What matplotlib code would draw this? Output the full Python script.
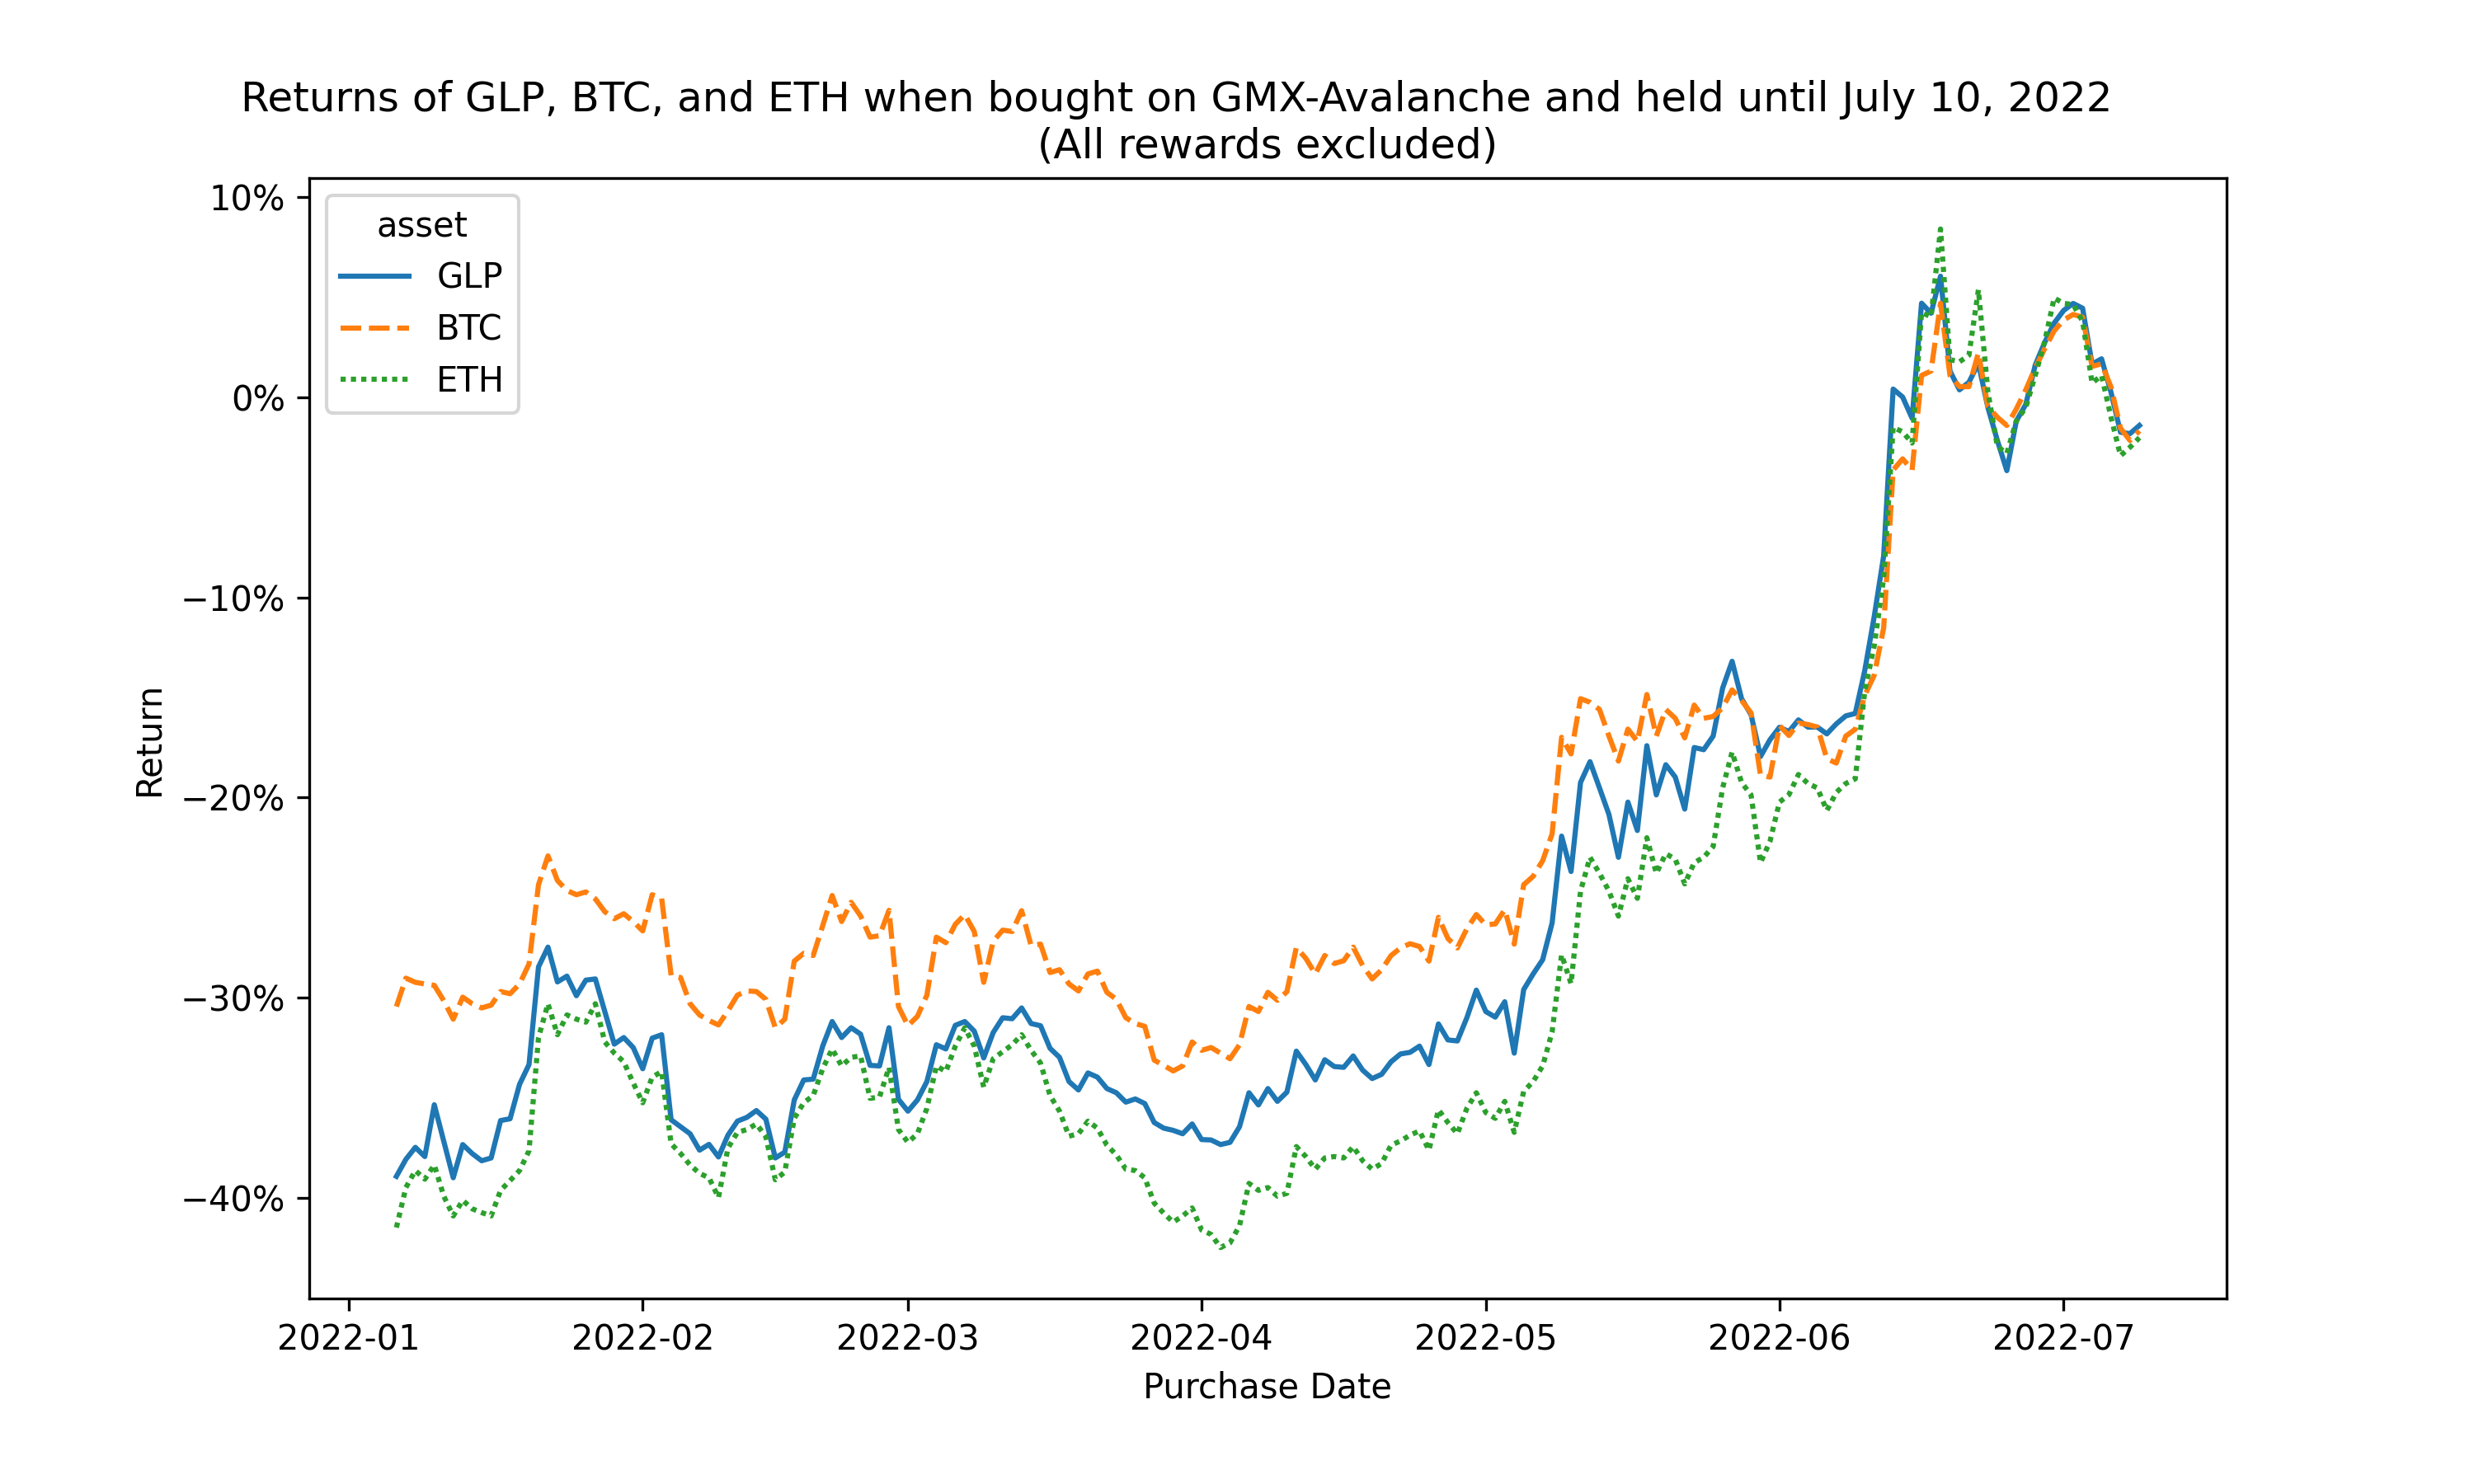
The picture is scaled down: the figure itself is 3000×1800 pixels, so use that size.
import matplotlib
matplotlib.use('Agg')
import matplotlib.pyplot as plt
from matplotlib.ticker import PercentFormatter
import seaborn as sns
import pandas as pd

# purchase dates (daily)
dates = pd.date_range('2022-01-06', '2022-07-09', freq='D')

# returns in %
glp = [
    -38.94, -38.09, -37.49, -37.95, -35.36, -37.18, -39.01, -37.35, -37.80, -38.16,
    -38.02, -36.15, -36.06, -34.34, -33.35, -28.47, -27.48, -29.22, -28.93, -29.91,
    -29.13, -29.07, -30.70, -32.33, -32.00, -32.50, -33.56, -32.03, -31.86, -36.11,
    -36.46, -36.81, -37.63, -37.34, -37.97, -36.88, -36.18, -35.99, -35.65, -36.08,
    -38.02, -37.73, -35.12, -34.12, -34.08, -32.43, -31.20, -32.00, -31.51, -31.83,
    -33.39, -33.42, -31.51, -35.09, -35.68, -35.12, -34.20, -32.36, -32.57, -31.39,
    -31.20, -31.68, -33.02, -31.75, -31.01, -31.06, -30.52, -31.30, -31.41, -32.54,
    -32.99, -34.20, -34.62, -33.77, -33.98, -34.55, -34.76, -35.23, -35.07, -35.30,
    -36.25, -36.53, -36.64, -36.81, -36.32, -37.10, -37.12, -37.35, -37.24, -36.46,
    -34.76, -35.37, -34.55, -35.19, -34.73, -32.68, -33.35, -34.12, -33.11, -33.45,
    -33.49, -32.92, -33.63, -34.05, -33.84, -33.21, -32.82, -32.74, -32.43, -33.35,
    -31.32, -32.12, -32.17, -31.01, -29.63, -30.70, -30.98, -30.21, -32.78, -29.60,
    -28.82, -28.11, -26.27, -21.93, -23.70, -19.25, -18.21, -19.52, -20.85, -22.99,
    -20.23, -21.65, -17.41, -19.87, -18.36, -18.98, -20.58, -17.50, -17.61, -16.93,
    -14.53, -13.19, -15.06, -15.86, -17.95, -17.11, -16.49, -16.70, -16.12, -16.48,
    -16.48, -16.82, -16.32, -15.92, -15.80, -13.66, -10.96, -7.92, 0.42, 0.02,
    -1.04, 4.71, 4.21, 6.06, 1.32, 0.38, 0.76, 1.70, -0.50, -2.15,
    -3.66, -1.18, -0.35, 1.62, 2.75, 3.72, 4.35, 4.70, 4.46, 1.67,
    1.93, 0.25, -1.74, -1.81, -1.40,
]
btc = [
    -30.45, -29.03, -29.24, -29.32, -29.39, -30.16, -31.08, -29.98, -30.31, -30.52,
    -30.38, -29.70, -29.81, -29.32, -28.32, -24.36, -22.92, -24.15, -24.65, -24.86,
    -24.72, -25.07, -25.71, -26.06, -25.81, -26.20, -26.67, -24.86, -25.04, -28.89,
    -29.00, -30.31, -30.87, -31.15, -31.37, -30.66, -29.88, -29.67, -29.70, -30.09,
    -31.51, -31.08, -28.18, -27.79, -27.90, -26.41, -24.90, -26.20, -25.24, -25.92,
    -26.98, -26.91, -25.64, -30.45, -31.41, -30.94, -29.88, -26.98, -27.26, -26.34,
    -25.85, -26.70, -29.24, -27.19, -26.63, -26.70, -25.66, -27.40, -27.33, -28.75,
    -28.61, -29.32, -29.67, -28.82, -28.68, -29.74, -30.09, -31.01, -31.30, -31.44,
    -33.13, -33.39, -33.67, -33.42, -32.22, -32.64, -32.50, -32.78, -33.06, -32.36,
    -30.45, -30.70, -29.74, -30.14, -29.71, -27.50, -28.04, -28.82, -27.90, -28.30,
    -28.16, -27.48, -28.40, -29.07, -28.61, -27.90, -27.52, -27.31, -27.45, -28.18,
    -25.99, -27.05, -27.52, -26.56, -25.85, -26.37, -26.32, -25.61, -27.33, -24.36,
    -23.94, -23.16, -21.82, -16.99, -17.82, -15.06, -15.24, -15.60, -16.93, -18.18,
    -16.58, -17.20, -14.85, -16.93, -15.60, -16.04, -17.02, -15.38, -16.04, -15.95,
    -15.51, -14.62, -15.15, -15.77, -18.89, -18.98, -16.40, -16.90, -16.28, -16.35,
    -16.48, -18.06, -18.28, -16.93, -16.59, -14.90, -13.89, -11.52, -3.63, -3.07,
    -3.63, 1.10, 1.32, 4.71, 1.10, 0.54, 0.54, 2.23, -0.45, -0.99,
    -1.40, -0.58, 0.38, 1.48, 2.44, 3.33, 3.87, 4.15, 4.01, 1.55,
    1.68, 0.52, -1.54, -2.15, -1.67,
]
eth = [
    -41.50, -39.50, -38.65, -39.08, -38.37, -39.93, -40.92, -40.14, -40.56, -40.75,
    -40.92, -39.64, -39.15, -38.65, -37.66, -32.00, -30.31, -31.86, -30.87, -31.08,
    -31.23, -30.31, -32.22, -32.78, -33.21, -34.27, -35.26, -33.98, -33.70, -37.31,
    -37.80, -38.37, -38.79, -39.01, -40.00, -37.52, -36.74, -36.60, -36.32, -36.96,
    -39.11, -38.72, -36.04, -35.26, -34.90, -33.56, -32.57, -33.42, -32.99, -32.92,
    -35.04, -34.97, -33.49, -36.60, -37.24, -36.81, -35.54, -33.42, -33.70, -32.43,
    -31.51, -32.43, -34.48, -33.06, -32.71, -32.36, -31.86, -32.64, -33.28, -34.90,
    -35.68, -36.93, -36.81, -36.18, -36.53, -37.38, -37.87, -38.58, -38.65, -39.01,
    -40.28, -40.78, -41.23, -40.92, -40.52, -41.62, -41.84, -42.50, -42.26, -41.41,
    -39.29, -39.64, -39.50, -39.93, -39.79, -37.45, -37.95, -38.58, -38.02, -37.95,
    -38.02, -37.45, -38.16, -38.58, -38.30, -37.38, -37.17, -36.88, -36.67, -37.63,
    -35.61, -36.25, -36.81, -35.54, -34.76, -35.75, -36.04, -35.19, -36.74, -34.69,
    -34.20, -33.42, -31.72, -27.86, -29.31, -24.68, -22.99, -23.79, -24.68, -25.93,
    -24.06, -25.04, -22.01, -23.79, -22.81, -23.08, -24.32, -23.26, -22.99, -22.45,
    -19.52, -17.73, -19.25, -19.87, -23.26, -22.19, -20.23, -19.86, -18.85, -19.30,
    -19.52, -20.65, -19.75, -19.30, -19.07, -14.68, -12.42, -9.04, -1.49, -1.72,
    -2.28, 4.25, 4.03, 8.42, 1.89, 1.78, 2.11, 5.38, 0.30, -2.45,
    -2.80, -1.18, -0.50, 1.10, 2.80, 4.97, 4.70, 4.65, 3.80, 0.72,
    1.10, -0.99, -2.91, -2.49, -2.01,
]

df = pd.DataFrame({
    'Purchase Date': list(dates) * 3,
    'Return': glp + btc + eth,
    'asset': ['GLP'] * len(dates) + ['BTC'] * len(dates) + ['ETH'] * len(dates),
})

fig, ax = plt.subplots(figsize=(10, 6))
fig.subplots_adjust(bottom=0.125)
sns.lineplot(data=df, x='Purchase Date', y='Return', hue='asset', style='asset', ax=ax)
ax.yaxis.set_major_formatter(PercentFormatter(100, decimals=0))
# trailing spaces on the first line push it left, as in the original
ax.set_title('Returns of GLP, BTC, and ETH when bought on GMX-Avalanche and held until July 10, 2022'
             + ' ' * 14 + '\n(All rewards excluded)')
ax.legend(title='asset', loc='upper left')

fig.savefig('out.png', dpi=300)
